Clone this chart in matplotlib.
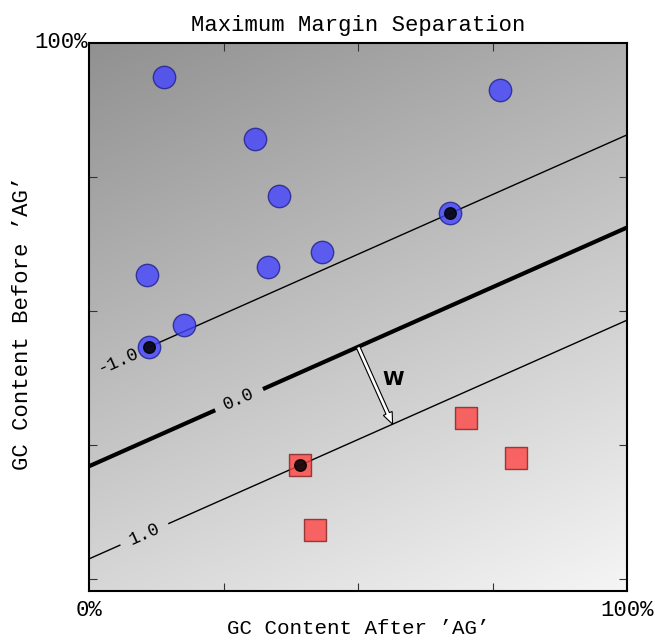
import numpy as np
import matplotlib
matplotlib.use("Agg")
import matplotlib.pyplot as plt
from matplotlib.colors import LinearSegmentedColormap

# ---- data (fractions of 100%) ----
blue_x = [0.139, 0.764, 0.309, 0.353, 0.671, 0.108, 0.333, 0.433, 0.177, 0.112]
blue_y = [0.936, 0.912, 0.820, 0.715, 0.682, 0.567, 0.582, 0.610, 0.474, 0.433]
red_x = [0.701, 0.794, 0.392, 0.420]
red_y = [0.300, 0.225, 0.212, 0.092]
# support vectors
sv_blue = [(0.112, 0.433), (0.671, 0.682)]
sv_red = [(0.392, 0.212)]
levels = [-1.0, 0.0, 1.0]
title = "Maximum Margin Separation"
xlabel = "GC Content After \u2019AG\u2019"
ylabel = "GC Content Before \u2019AG\u2019"

# ---- maximum margin hyperplane from the support vectors ----
p1 = np.array(sv_blue[0]); p2 = np.array(sv_blue[1]); r = np.array(sv_red[0])
d = p2 - p1
n = np.array([d[1], -d[0]]) / np.linalg.norm(d)
dist = n @ (r - p1)
w = n / (dist / 2.0)
b = -1.0 - w @ p1

plt.rcParams['font.family'] = ['Liberation Mono', 'DejaVu Sans Mono']

fig = plt.figure(figsize=(6.55, 6.4), dpi=100)
ax = fig.add_axes([89/655, 49/640, 538/655, 548/640])

y0, y1 = -0.0225, 1.0
xx, yy = np.meshgrid(np.linspace(0, 1, 300), np.linspace(y0, y1, 300))
F = w[0]*xx + w[1]*yy + b
cmap = LinearSegmentedColormap.from_list("bg", ["#919191", "#f5f5f5"])
ax.imshow(F, extent=[0, 1, y0, y1], origin='lower', aspect='auto', cmap=cmap,
          vmin=w[1]*y1 + b, vmax=w[0] + w[1]*y0 + b, zorder=0)

cs = ax.contour(xx, yy, F, levels=levels, colors='black', linestyles='solid',
                linewidths=[1.0, 3.0, 1.0], zorder=2)
ax.clabel(cs, fmt='%1.1f', fontsize=13, inline=True, inline_spacing=10,
          manual=[(0.048, 0.419), (0.281, 0.330), (0.099, 0.092)])

ax.scatter(blue_x, blue_y, s=260, marker='o', facecolor='#4444ff', alpha=0.8,
           edgecolor='#202090', linewidth=1.0, zorder=3)
ax.scatter(red_x, red_y, s=260, marker='s', facecolor='#ff4444', alpha=0.8,
           edgecolor='#802020', linewidth=1.0, zorder=3)
svx = [p[0] for p in sv_blue + sv_red]
svy = [p[1] for p in sv_blue + sv_red]
ax.scatter(svx, svy, s=70, marker='o', color='black', alpha=0.85, zorder=4)

# normal vector arrow
start = np.array([0.5, -(b + w[0]*0.5)/w[1]])
delta = w / (w @ w)
ax.arrow(start[0], start[1], delta[0], delta[1], width=0.007, head_width=0.018,
         head_length=0.022, length_includes_head=True, fc='white', ec='black',
         lw=0.8, zorder=3)
ax.text(0.565, 0.372, "W", family='DejaVu Sans', fontweight='bold', fontsize=14,
        ha='center', va='center', zorder=5)

ax.set_xlim(0, 1)
ax.set_ylim(y0, y1)
ax.set_xticks([0.25, 0.5, 0.75])
ax.set_yticks([0.0, 0.25, 0.5, 0.75])
ax.tick_params(direction='in', length=6, width=0.8, top=True, right=True,
               labelbottom=False, labelleft=False, color='#333333')
for sp in ax.spines.values():
    sp.set_linewidth(1.5)

ax.text(-0.003, 0.99, "100%", transform=ax.transAxes, ha='right', va='baseline', fontsize=16)
ax.text(0.0, -0.046, "0%", transform=ax.transAxes, ha='center', va='baseline', fontsize=16)
ax.text(1.0, -0.046, "100%", transform=ax.transAxes, ha='center', va='baseline', fontsize=16)

ax.set_title(title, fontsize=16, pad=9)
ax.set_xlabel(xlabel, fontsize=15)
ax.xaxis.set_label_coords(0.5, -0.052)
ax.set_ylabel(ylabel, fontsize=16)
ax.yaxis.set_label_coords(-0.105, 0.49)

fig.savefig("out.png", dpi=100)
